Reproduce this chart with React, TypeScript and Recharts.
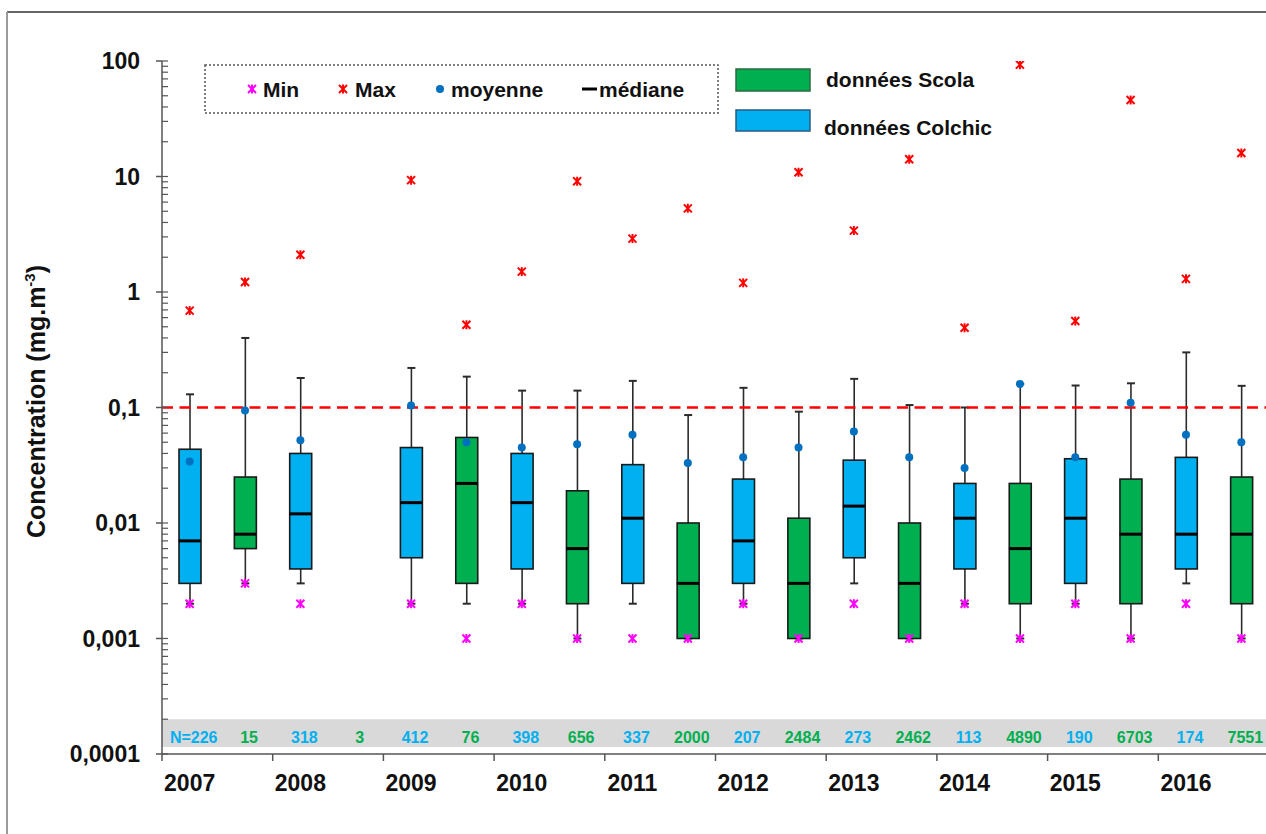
import React from 'react';
import { ComposedChart, Bar, Scatter, XAxis, YAxis, ReferenceLine, ReferenceArea } from 'recharts';

const FONT = "'Liberation Sans', Arial, Helvetica, sans-serif";
const BLUE = '#00b0f0';
const GREEN = '#00b050';
const MEAN_COLOR = '#0070c0';
const MIN_COLOR = '#ff00ff';
const MAX_COLOR = '#ff0000';

// ---- categories ----
const years = ['2007', '2008', '2009', '2010', '2011', '2012', '2013', '2014', '2015', '2016'];

// ---- Colchic data (blue) ----
const colchicQ1 = [0.003, 0.004, 0.005, 0.004, 0.003, 0.003, 0.005, 0.004, 0.003, 0.004];
const colchicQ3 = [0.0435, 0.04, 0.045, 0.04, 0.032, 0.024, 0.035, 0.022, 0.036, 0.037];
const colchicMedian = [0.007, 0.012, 0.015, 0.015, 0.011, 0.007, 0.014, 0.011, 0.011, 0.008];
const colchicMean = [0.034, 0.052, 0.104, 0.045, 0.058, 0.037, 0.062, 0.03, 0.037, 0.058];
const colchicLow = [0.002, 0.003, 0.002, 0.002, 0.002, 0.002, 0.003, 0.002, 0.002, 0.003];
const colchicHigh = [0.13, 0.18, 0.22, 0.14, 0.17, 0.148, 0.177, 0.1, 0.155, 0.3];
const colchicMin = [0.002, 0.002, 0.002, 0.002, 0.001, 0.002, 0.002, 0.002, 0.002, 0.002];
const colchicMax = [0.69, 2.1, 9.3, 1.5, 2.9, 1.2, 3.4, 0.49, 0.56, 1.3];
const colchicN = [226, 318, 412, 398, 337, 207, 273, 113, 190, 174];

// ---- Scola data (green) ----
const scolaQ1 = [0.006, null, 0.003, 0.002, 0.001, 0.001, 0.001, 0.002, 0.002, 0.002];
const scolaQ3 = [0.025, null, 0.055, 0.019, 0.01, 0.011, 0.01, 0.022, 0.024, 0.025];
const scolaMedian = [0.008, null, 0.022, 0.006, 0.003, 0.003, 0.003, 0.006, 0.008, 0.008];
const scolaMean = [0.094, null, 0.05, 0.048, 0.033, 0.045, 0.037, 0.16, 0.11, 0.05];
const scolaLow = [0.003, null, 0.002, 0.001, 0.001, 0.001, 0.001, 0.001, 0.001, 0.001];
const scolaHigh = [0.4, null, 0.185, 0.14, 0.086, 0.092, 0.105, 0.16, 0.162, 0.154];
const scolaMin = [0.003, null, 0.001, 0.001, 0.001, 0.001, 0.001, 0.001, 0.001, 0.001];
const scolaMax = [1.22, null, 0.52, 9.1, 5.3, 10.9, 14.1, 93, 46, 16];
const scolaN = [15, 3, 76, 656, 2000, 2484, 2462, 4890, 6703, 7551];

// ---- axis ticks ----
const majorTicks = [0.0001, 0.001, 0.01, 0.1, 1, 10, 100];
const yTickLabels = ['0,0001', '0,001', '0,01', '0,1', '1', '10', '100'];
const minorMultipliers = [1, 2, 3, 4, 5, 6, 7, 8, 9];
const minorTicks = [
  ...majorTicks.slice(0, -1).flatMap((d) => minorMultipliers.map((m) => m * d)),
  100,
];
const limitValue = 0.1;
const nBand = [0.000115, 0.0002];

type Row = {
  slot: string;
  idx: number;
  source: 'Colchic' | 'Scola';
  box: [number, number] | null;
  whisker: [number, number] | null;
  median: number | null;
  mean: number | null;
  min: number | null;
  max: number | null;
  n: number;
};

const rows: Row[] = years.flatMap((yr, i) => [
  {
    slot: `${yr}-C`,
    idx: i * 2 + 0.5,
    source: 'Colchic' as const,
    box: [colchicQ1[i], colchicQ3[i]] as [number, number],
    whisker: [colchicLow[i], colchicHigh[i]] as [number, number],
    median: colchicMedian[i],
    mean: colchicMean[i],
    min: colchicMin[i],
    max: colchicMax[i],
    n: colchicN[i],
  },
  {
    slot: `${yr}-S`,
    idx: i * 2 + 1.5,
    source: 'Scola' as const,
    box: scolaQ1[i] == null ? null : ([scolaQ1[i], scolaQ3[i]] as [number, number]),
    whisker: scolaLow[i] == null ? null : ([scolaLow[i], scolaHigh[i]] as [number, number]),
    median: scolaMedian[i],
    mean: scolaMean[i],
    min: scolaMin[i],
    max: scolaMax[i],
    n: scolaN[i],
  },
]);

const slotCount = rows.length;
const boundaryTicks = years.map((_, i) => i * 2);
const yearTicks = years.map((_, i) => i * 2 + 0.5);
const AXIS_H = 0.01;

const BoxShape = (props: any) => {
  const { x, y, width, height, payload } = props;
  if (!payload || payload.box == null || !isFinite(y) || !isFinite(height)) return <g />;
  const top = Math.min(y, y + height);
  const h = Math.abs(height);
  return (
    <rect
      x={x}
      y={top}
      width={width}
      height={h}
      fill={payload.source === 'Colchic' ? BLUE : GREEN}
      stroke="#1a1a1a"
      strokeWidth={1.6}
    />
  );
};

const WhiskerShape = (props: any) => {
  const { x, y, width, height, payload } = props;
  if (!payload || payload.whisker == null || !isFinite(y) || !isFinite(height)) return <g />;
  const cx = x + width / 2;
  const top = Math.min(y, y + height);
  const bot = Math.max(y, y + height);
  return (
    <g stroke="#2b2b2b">
      <line x1={cx} x2={cx} y1={top} y2={bot} strokeWidth={1.6} />
      <line x1={x} x2={x + width} y1={top} y2={top} strokeWidth={2} />
      <line x1={x} x2={x + width} y1={bot} y2={bot} strokeWidth={2} />
    </g>
  );
};

const MedianShape = (props: any) => {
  const { cx, cy, payload } = props;
  if (!payload || payload.median == null || !isFinite(cy)) return <g />;
  return <line x1={cx - 11} x2={cx + 11} y1={cy} y2={cy} stroke="#000" strokeWidth={3} />;
};

const MeanShape = (props: any) => {
  const { cx, cy, payload } = props;
  if (!payload || payload.mean == null || !isFinite(cy)) return <g />;
  return <circle cx={cx} cy={cy} r={4} fill={MEAN_COLOR} />;
};

const EmptyShape = () => <g />;
const EmptyTick = () => <g />;

const StarMark = ({ cx, cy, color }: { cx: number; cy: number; color: string }) => (
  <g stroke={color} strokeWidth={2}>
    <line x1={cx - 4} y1={cy - 4} x2={cx + 4} y2={cy + 4} />
    <line x1={cx - 4} y1={cy + 4} x2={cx + 4} y2={cy - 4} />
    <line x1={cx} y1={cy - 4.5} x2={cx} y2={cy + 4.5} />
  </g>
);

const makeStarShape = (key: 'min' | 'max', color: string) => (props: any) => {
  const { cx, cy, payload } = props;
  if (!payload || payload[key] == null || !isFinite(cy)) return <g />;
  return <StarMark cx={cx} cy={cy} color={color} />;
};
const MinShape = makeStarShape('min', MIN_COLOR);
const MaxShape = makeStarShape('max', MAX_COLOR);

const NTick = (props: any) => {
  const { x, y, payload } = props;
  const row = rows.find((r) => r.slot === payload.value);
  if (!row) return <g />;
  const label = payload.index === 0 ? `N=${row.n}` : String(row.n);
  return (
    <text
      x={x + 4}
      y={y}
      textAnchor="middle"
      fill={row.source === 'Colchic' ? BLUE : GREEN}
      fontSize={16}
      fontWeight={700}
      fontFamily={FONT}
    >
      {label}
    </text>
  );
};

const YTitle = (props: any) => {
  const vb = props.viewBox || { x: 8, y: 61, width: 154, height: 693 };
  const x = vb.x + 37;
  const y = vb.y + vb.height / 2 - 6;
  return (
    <text
      x={x}
      y={y}
      transform={`rotate(-90, ${x}, ${y})`}
      textAnchor="middle"
      fontSize={25}
      fontWeight={700}
      fontFamily={FONT}
      fill="#111"
    >
      Concentration (mg.m
      <tspan dy={-10} fontSize={15}>
        -3
      </tspan>
      <tspan dy={10}>)</tspan>
    </text>
  );
};

const tickText = { fontSize: 23, fontWeight: 700, fill: '#111', fontFamily: FONT };

export default function App() {
  return (
    <div
      style={{
        position: 'absolute',
        left: 0,
        top: 0,
        width: 1266,
        height: 834,
        overflow: 'hidden',
        background: '#fff',
      }}
    >
      <div style={{ position: 'absolute', left: 0, top: 0 }}>
        <ComposedChart
          width={1290}
          height={834}
          data={rows}
          margin={{ top: 61, right: 21, bottom: 80, left: 8 }}
        >
          <XAxis xAxisId="cat" dataKey="slot" type="category" hide height={AXIS_H} />
          <XAxis xAxisId="catW" dataKey="slot" type="category" hide height={AXIS_H} />
          <XAxis
            xAxisId="frame"
            dataKey="idx"
            type="number"
            domain={[0, slotCount]}
            allowDataOverflow
            ticks={boundaryTicks}
            interval={0}
            tick={EmptyTick}
            tickSize={7}
            tickMargin={0}
            height={AXIS_H}
            axisLine={{ stroke: '#555', strokeWidth: 1.5 }}
            tickLine={{ stroke: '#555', strokeWidth: 1.5 }}
          />
          <XAxis
            xAxisId="years"
            dataKey="idx"
            type="number"
            domain={[0, slotCount]}
            allowDataOverflow
            ticks={yearTicks}
            interval={0}
            tickFormatter={(v: number) => years[Math.floor(v / 2)] ?? ''}
            axisLine={false}
            tickLine={false}
            tickSize={0}
            tickMargin={21}
            height={AXIS_H}
            tick={tickText}
          />
          <XAxis
            xAxisId="nAxis"
            dataKey="slot"
            type="category"
            mirror
            interval={0}
            axisLine={false}
            tickLine={false}
            tickSize={0}
            tickMargin={11}
            height={AXIS_H}
            tick={<NTick />}
          />
          <YAxis
            yAxisId="y"
            scale="log"
            type="number"
            domain={[majorTicks[0], majorTicks[majorTicks.length - 1]]}
            allowDataOverflow
            ticks={majorTicks}
            interval={0}
            tickFormatter={(v: number) => yTickLabels[majorTicks.indexOf(v)] ?? String(v)}
            width={154}
            tickSize={6}
            tickMargin={16}
            tick={tickText}
            axisLine={{ stroke: '#555', strokeWidth: 1.5 }}
            tickLine={{ stroke: '#555', strokeWidth: 1.5 }}
            label={{ content: YTitle }}
          />
          <YAxis
            yAxisId="minor"
            scale="log"
            type="number"
            domain={[majorTicks[0], majorTicks[majorTicks.length - 1]]}
            allowDataOverflow
            ticks={minorTicks}
            interval={0}
            mirror
            tick={EmptyTick}
            tickSize={6}
            tickMargin={0}
            axisLine={false}
            tickLine={{ stroke: '#555', strokeWidth: 1.2 }}
          />

          <ReferenceArea
            xAxisId="frame"
            yAxisId="y"
            y1={nBand[0]}
            y2={nBand[1]}
            fill="#d9d9d9"
            fillOpacity={1}
            stroke="none"
          />

          <Bar
            xAxisId="catW"
            yAxisId="y"
            dataKey="whisker"
            barSize={8}
            shape={WhiskerShape}
            isAnimationActive={false}
          />
          <Bar
            xAxisId="cat"
            yAxisId="y"
            dataKey="box"
            barSize={22}
            shape={BoxShape}
            isAnimationActive={false}
          />
          <Scatter xAxisId="cat" yAxisId="y" dataKey="median" shape={MedianShape} isAnimationActive={false} />
          <ReferenceLine
            xAxisId="frame"
            yAxisId="y"
            y={limitValue}
            stroke="#ff0000"
            strokeWidth={2.5}
            strokeDasharray="11 6.5"
          />
          <Scatter xAxisId="cat" yAxisId="y" dataKey="min" shape={MinShape} isAnimationActive={false} />
          <Scatter xAxisId="cat" yAxisId="y" dataKey="max" shape={MaxShape} isAnimationActive={false} />
          <Scatter xAxisId="cat" yAxisId="y" dataKey="mean" shape={MeanShape} isAnimationActive={false} />
          {/* invisible helpers so the decoration-only axes are registered with items */}
          <Scatter xAxisId="frame" yAxisId="minor" dataKey="mean" shape={EmptyShape} isAnimationActive={false} />
          <Scatter xAxisId="years" yAxisId="y" dataKey="mean" shape={EmptyShape} isAnimationActive={false} />
          <Scatter xAxisId="nAxis" yAxisId="y" dataKey="mean" shape={EmptyShape} isAnimationActive={false} />
        </ComposedChart>
      </div>

      <svg
        width={1266}
        height={834}
        style={{ position: 'absolute', left: 0, top: 0, pointerEvents: 'none' }}
        fontFamily={FONT}
      >
        <line x1={7} y1={12} x2={1266} y2={12} stroke="#333" strokeWidth={1.6} />
        <line x1={7} y1={12} x2={7} y2={834} stroke="#9a9a9a" strokeWidth={2} />

        <rect x={205} y={65} width={513} height={48} fill="#fff" stroke="#555" strokeWidth={1.5} strokeDasharray="2 2" />
        <StarMark cx={252} cy={89} color={MIN_COLOR} />
        <text x={263} y={97} fontSize={21} fontWeight={700} fill="#111">Min</text>
        <StarMark cx={343} cy={89} color={MAX_COLOR} />
        <text x={355} y={97} fontSize={21} fontWeight={700} fill="#111">Max</text>
        <circle cx={440} cy={89} r={4} fill={MEAN_COLOR} />
        <text x={451} y={97} fontSize={21} fontWeight={700} fill="#111">moyenne</text>
        <line x1={582} x2={597} y1={89} y2={89} stroke="#000" strokeWidth={3} />
        <text x={599} y={97} fontSize={21} fontWeight={700} fill="#111">médiane</text>

        <rect x={736} y={69} width={74} height={22} fill={GREEN} stroke="#2d6a3e" strokeWidth={1.5} />
        <text x={826} y={87} fontSize={21} fontWeight={700} fill="#111">données Scola</text>
        <rect x={736} y={110} width={74} height={21} fill={BLUE} stroke="#2a5a85" strokeWidth={1.5} />
        <text x={824} y={135} fontSize={21} fontWeight={700} fill="#111">données Colchic</text>
      </svg>
    </div>
  );
}
